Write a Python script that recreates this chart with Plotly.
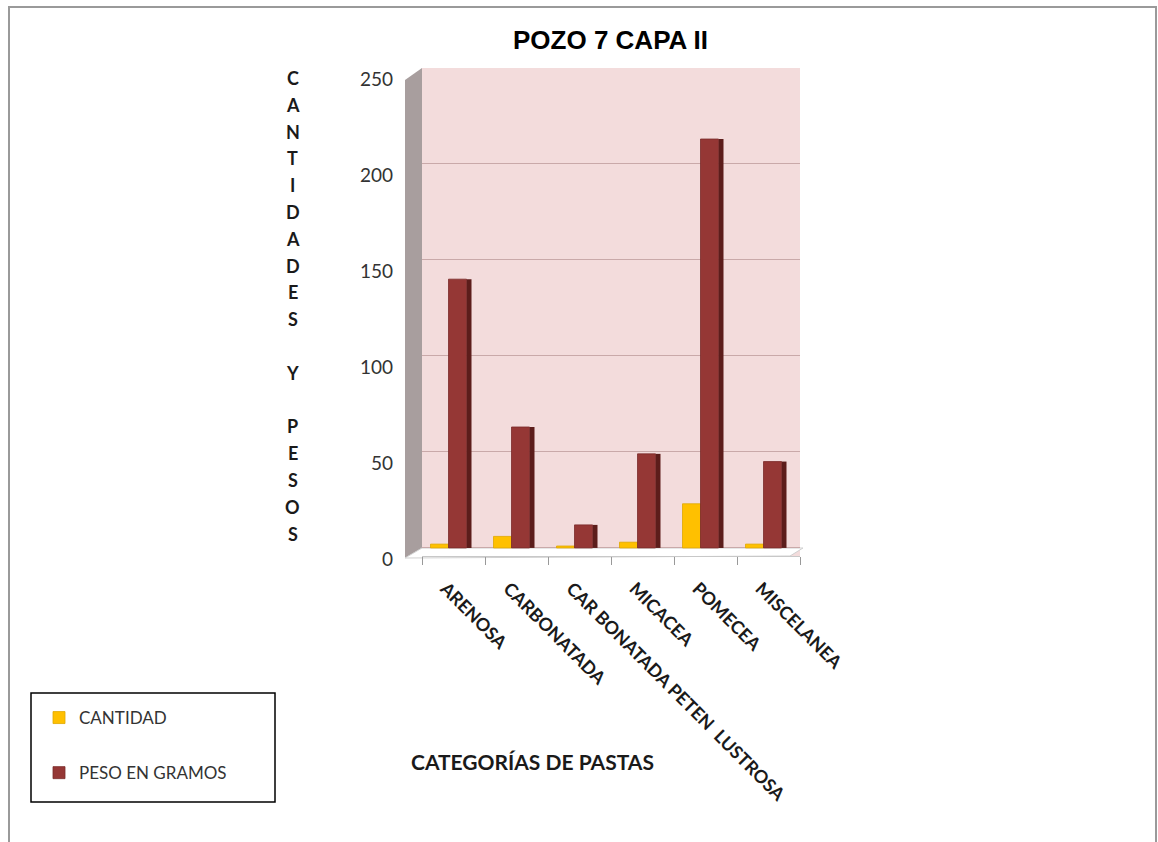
import plotly.graph_objects as go

# Data
categorias = ["ARENOSA", "CARBONATADA", "CAR BONATADA PETEN  LUSTROSA",
              "MICACEA", "POMECEA", "MISCELANEA"]
cantidad = [2, 6, 1, 3, 23, 2]
peso_gramos = [140, 63, 12, 49, 213, 45]
y_ticks = [0, 50, 100, 150, 200, 250]

W, H = 1158, 842


def px(x):
    return x / W


def py(y):
    return 1 - y / H


# plot area in pixels
X0, X1 = 422, 800
Y_TOP, Y_BOT = 68, 556
CAT_PX = (X1 - X0) / len(categorias)   # pixel width of one category


def cat(p):
    """pixels -> category units"""
    return p / CAT_PX


BAR_W = 18
SIDE_W = 5

fig = go.Figure()
fig.add_trace(go.Bar(
    name="CANTIDAD", x=categorias, y=cantidad,
    offset=cat(-23), width=cat(BAR_W),
    marker=dict(color="#ffc000", line=dict(color="#e0a800", width=0.8)),
    legendgroup="a",
))
# darker right face of the weight columns
fig.add_trace(go.Bar(
    name="PESO EN GRAMOS", x=categorias, y=peso_gramos,
    offset=cat(-5 + BAR_W), width=cat(SIDE_W),
    marker=dict(color="#5c1d1b", line=dict(width=0)),
    showlegend=False, hoverinfo="skip", legendgroup="b",
))
fig.add_trace(go.Bar(
    name="PESO EN GRAMOS", x=categorias, y=peso_gramos,
    offset=cat(-5), width=cat(BAR_W),
    marker=dict(color="#953735", line=dict(color="#7a2b29", width=0.8)),
    legendgroup="b",
))

shapes = []
# outer frame (open at the bottom)
shapes.append(dict(
    type="path", xref="paper", yref="paper",
    path=f"M {px(9)},{py(845)} L {px(9)},{py(7)} L {px(1156)},{py(7)} L {px(1156)},{py(845)}",
    line=dict(color="#9a9a9a", width=2), layer="below",
))
# side wall
shapes.append(dict(
    type="path", xref="paper", yref="paper",
    path=(f"M {px(X0 - 17)},{py(80)} L {px(X0)},{py(Y_TOP)} "
          f"L {px(X0)},{py(548)} L {px(X0 - 17)},{py(558)} Z"),
    fillcolor="#a89e9e", line=dict(width=0), layer="below",
))
# floor
shapes.append(dict(
    type="path", xref="paper", yref="paper",
    path=(f"M {px(X0)},{py(548)} L {px(X1 + 3)},{py(548)} "
          f"L {px(X1 - 10)},{py(Y_BOT)} L {px(X0 - 17)},{py(Y_BOT + 2)} Z"),
    fillcolor="#ffffff", line=dict(color="#d0d0d0", width=1), layer="below",
))
# legend frame
shapes.append(dict(
    type="rect", xref="paper", yref="paper",
    x0=px(31), x1=px(275), y0=py(802), y1=py(693),
    line=dict(color="#000000", width=1.5), fillcolor="rgba(0,0,0,0)",
))

annotations = []
annotations.append(dict(
    text="<b>POZO 7 CAPA II</b>", x=px(611), y=py(40), xref="paper", yref="paper",
    showarrow=False, xanchor="center", yanchor="middle",
    font=dict(family="Liberation Sans", size=26, color="#000000"),
))
annotations.append(dict(
    text="<b>CATEGORÍAS DE PASTAS</b>", x=px(532), y=py(761), xref="paper", yref="paper",
    showarrow=False, xanchor="center", yanchor="middle",
    font=dict(family="Lato", size=21, color="#1a1a1a"),
))
# vertical y-axis title, one letter per line
titulo_y = list("CANTIDADES") + [""] + ["Y"] + [""] + list("PESOS")
for i, letra in enumerate(titulo_y):
    if letra:
        annotations.append(dict(
            text=f"<b>{letra}</b>", x=px(293), y=py(78 + i * 26.8),
            xref="paper", yref="paper", showarrow=False,
            xanchor="center", yanchor="middle",
            font=dict(family="Lato", size=18, color="#1a1a1a"),
        ))

fig.update_layout(
    width=W, height=H, autosize=False,
    margin=dict(l=0, r=0, t=0, b=0, pad=0, autoexpand=False),
    paper_bgcolor="#ffffff",
    plot_bgcolor="#f3dcdc",
    barmode="overlay",
    shapes=shapes, annotations=annotations,
    legend=dict(
        x=px(39), y=py(700), xanchor="left", yanchor="top",
        bgcolor="rgba(0,0,0,0)", borderwidth=0,
        tracegroupgap=30, itemwidth=30,
        font=dict(family="Lato", size=17, color="#333333"),
    ),
    xaxis=dict(
        domain=[px(X0), px(X1)], automargin=False,
        tickangle=45, showline=True, linecolor="#c8c8c8", linewidth=1,
        ticks="outside", tickson="boundaries", ticklen=8, tickcolor="#999999",
        showgrid=False,
        tickfont=dict(family="Lato", size=18, color="#1a1a1a", weight="bold"),
        ticklabelstandoff=14, ticklabelshift=-8,
    ),
    yaxis=dict(
        domain=[py(Y_BOT), py(Y_TOP)], automargin=False,
        range=[-4.2, 250], tickvals=y_ticks,
        showgrid=True, gridcolor="#c9a9a9", gridwidth=1.2,
        zeroline=False, showline=False,
        tickfont=dict(family="Lato", size=19, color="#333333"),
        ticklabelstandoff=28, ticklabelshift=11,
    ),
)

fig.write_html("out.html")
